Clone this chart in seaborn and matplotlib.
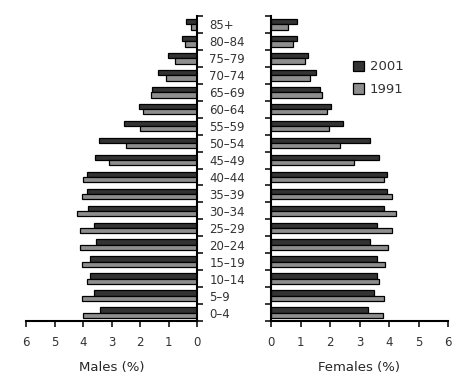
import matplotlib
matplotlib.use("Agg")
import matplotlib.pyplot as plt
import seaborn as sns
import pandas as pd
import numpy as np

ages = ["85+", "80–84", "75–79", "70–74", "65–69", "60–64", "55–59", "50–54", "45–49",
        "40–44", "35–39", "30–34", "25–29", "20–24", "15–19", "10–14", "5–9", "0–4"]
males_2001 = [0.37, 0.54, 1.03, 1.38, 1.59, 2.05, 2.57, 3.45, 3.59,
              3.85, 3.87, 3.84, 3.63, 3.53, 3.77, 3.77, 3.63, 3.42]
males_1991 = [0.22, 0.43, 0.78, 1.10, 1.63, 1.91, 2.01, 2.50, 3.10,
              4.01, 4.05, 4.22, 4.12, 4.12, 4.05, 3.87, 4.05, 4.01]
females_2001 = [0.87, 0.87, 1.24, 1.51, 1.65, 2.02, 2.43, 3.34, 3.65,
                3.92, 3.92, 3.82, 3.58, 3.34, 3.58, 3.58, 3.48, 3.28]
females_1991 = [0.56, 0.73, 1.14, 1.33, 1.72, 1.89, 1.95, 2.33, 2.80,
                3.82, 4.09, 4.23, 4.09, 3.95, 3.85, 3.65, 3.82, 3.79]
years = ["2001", "1991"]
xticks = [0, 1, 2, 3, 4, 5, 6]

sns.set_style("white")
plt.rcParams["font.family"] = ["DejaVu Sans"]
plt.rcParams["font.size"] = 8.5
plt.rcParams["text.color"] = "#333333"

def long_df(v2001, v1991):
    return pd.DataFrame({
        "age": ages * 2,
        "year": ["2001"] * len(ages) + ["1991"] * len(ages),
        "value": v2001 + v1991,
    })

palette = {"2001": "#333333", "1991": "#8e8e8e"}

fig = plt.figure(figsize=(4.72, 3.84), dpi=100)
ax_m = fig.add_axes([26 / 472, 63 / 384, 171 / 472, 305 / 384])
ax_f = fig.add_axes([271 / 472, 63 / 384, 177 / 472, 305 / 384])

for ax, d in [(ax_m, long_df(males_2001, males_1991)),
              (ax_f, long_df(females_2001, females_1991))]:
    sns.barplot(data=d, x="value", y="age", hue="year", order=ages, hue_order=years,
                palette=palette, orient="h", width=0.62, edgecolor="black",
                linewidth=0.9, saturation=1, ax=ax)
    ax.set_xlim(0, 6)
    ax.set_ylim(len(ages) - 0.5, -0.5)
    ax.set_xticks(xticks)
    ax.set_ylabel("")
    ax.set_yticks(np.arange(-0.5, len(ages), 1.0), minor=True)
    ax.tick_params(axis="x", bottom=True, direction="out", length=4, width=1.3,
                   pad=7, labelsize=8.5, labelcolor="#333333")
    ax.tick_params(axis="y", which="minor", direction="out", length=4, width=1.3)
    for s in ax.spines.values():
        s.set_linewidth(1.5)
        s.set_color("black")

# males: mirrored, labels on right spine
ax_m.invert_xaxis()
ax_m.spines[["top", "left"]].set_visible(False)
ax_m.yaxis.tick_right()
ax_m.tick_params(axis="y", which="major", length=0, pad=9, labelsize=8.5,
                 labelcolor="#333333")
ax_m.tick_params(axis="y", which="minor", right=True, left=False)
ax_m.set_xlabel("Males (%)", fontsize=9.5)
ax_m.get_legend().remove()

ax_f.spines[["top", "right"]].set_visible(False)
ax_f.set_yticks(range(len(ages)))
ax_f.set_yticklabels([])
ax_f.tick_params(axis="y", which="major", length=0)
ax_f.tick_params(axis="y", which="minor", left=True)
ax_f.set_xlabel("Females (%)", fontsize=9.5)
ax_f.xaxis.set_label_coords(0.5, -0.13)
ax_m.xaxis.set_label_coords(0.5, -0.13)
ax_f.legend(loc="upper left", bbox_to_anchor=(0.465, 0.855), frameon=False,
            borderpad=0, borderaxespad=0, handlelength=0.8, handleheight=0.8,
            handletextpad=0.45, labelspacing=0.75, fontsize=9.5)

fig.savefig("out.png", dpi=100)
